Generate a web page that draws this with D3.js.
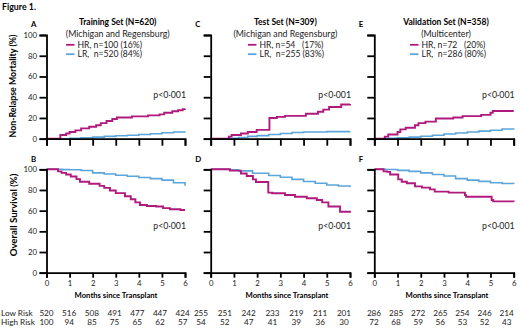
<!DOCTYPE html>
<html><head><meta charset="utf-8">
<script src="https://cdn.jsdelivr.net/npm/d3@7"></script>
<style>
body{margin:0;background:#fff;}
svg{font-family:Lato,"Open Sans",sans-serif;}
text{white-space:pre;}
</style></head>
<body><svg id="c" width="520" height="330"></svg>
<script>
// ---------- data ----------
const months = [0,1,2,3,4,5,6];
const nrmTicks = [0,20,40,60,80,100];
const panelLettersTop = ["A","C","E"];
const panelLettersBottom = ["B","D","F"];
const titles = ["Training Set (N=620)","Test Set (N=309)","Validation Set (N=358)"];
const subtitles = ["(Michigan and Regensburg)","(Michigan and Regensburg)","(Multicenter)"];
const legendHR = ["HR, n=100 (16%)","HR, n=54   (17%)","HR, n=72   (20%)"];
const legendLR = ["LR,  n=520 (84%)","LR,  n=255 (83%)","LR,  n=286 (80%)"];
const pText = "p<0\u00b7001";
const lowRisk = [[520,516,508,491,477,447,424],[255,251,242,233,219,211,201],[286,285,272,265,254,246,214]];
const highRisk = [[100,94,85,75,65,62,57],[54,52,47,41,39,36,30],[72,68,59,56,53,52,43]];

// Non-relapse mortality (%) step curves [month, value]
const nrmHR_A = [[0,0],[0.6,3.5],[0.85,5],[1.0,6.5],[1.25,8],[1.5,10],[1.85,11.5],[2.15,13],[2.35,15],[2.6,17],[2.85,19],[3.05,20.5],[3.7,21.5],[4.4,22.5],[4.9,23.5],[5.1,25],[5.45,26.5],[5.7,27.5],[5.9,28.5],[6,29]];
const nrmLR_A = [[0,0],[1.0,0.3],[1.5,0.8],[2,1.5],[2.5,2.2],[3,2.8],[3.5,3.3],[4,4],[4.5,4.8],[5,5.8],[5.5,6.5],[6,7]];
const nrmHR_C = [[0,0],[0.78,2],[0.9,3.5],[1.3,5],[1.6,6.5],[1.98,8.5],[2.53,20],[2.85,21],[3.2,22],[4.1,24],[4.62,26],[4.85,28],[5.1,30.5],[5.62,33],[6,33.5]];
const nrmLR_C = [[0,0],[0.8,0.3],[1.2,1.2],[1.6,2.2],[2,3],[2.5,4],[3,5],[3.5,6],[4,6.5],[5,6.8],[6,7]];
const nrmHR_E = [[0,0],[0.45,2],[0.6,4],[1.0,6.5],[1.12,9],[1.35,10.5],[1.75,13],[1.9,15],[2.2,16.5],[2.65,19.5],[3.4,20.5],[3.8,21.8],[4.6,23],[5.0,25],[5.1,26.7],[6,26.7]];
const nrmLR_E = [[0,0],[0.5,0.3],[1,0.8],[1.5,1.5],[2,2.4],[2.5,3.3],[3,4.5],[3.5,5.5],[4,6.5],[4.5,7.3],[5,8.2],[5.5,9.3],[6,10]];
// Overall survival (%)
const osHR_B = [[0,100],[0.5,98],[0.65,96.5],[0.85,95],[1.05,93],[1.3,90.5],[1.45,88],[1.85,86],[2.3,84],[2.5,82],[2.75,79.5],[3.0,77],[3.4,74],[3.65,71],[3.85,68],[4.05,65.5],[4.35,64.5],[4.75,64],[5.05,62.5],[5.35,61.3],[5.8,60.6],[6,60.6]];
const osLR_B = [[0,100],[0.7,99.7],[1,99.5],[1.5,98.8],[2,96.5],[2.5,95.5],[3,94.3],[3.5,93.3],[4,92],[4.5,91],[5,89.5],[5.5,87],[6,84]];
const osHR_D = [[0,100],[0.83,98.7],[1.3,96],[1.55,93.5],[1.82,90.3],[1.95,87.7],[2.48,77.4],[2.65,76.8],[3.2,75.2],[3.63,73.5],[4.14,72],[4.57,70.3],[4.8,68],[5.07,64],[5.57,59],[6,58]];
const osLR_D = [[0,100],[0.8,99.5],[1.2,98.5],[1.8,96.2],[2.5,94],[3,92.3],[3.5,90.3],[4,88.2],[4.5,86.5],[5,84.8],[5.5,83.8],[6,82.6]];
const osHR_F = [[0,100],[0.4,98],[0.55,97.5],[0.68,95],[1.03,90.3],[1.18,88],[1.4,86.5],[1.75,83.5],[2.05,82.3],[2.4,80.6],[2.6,78.4],[3.2,77.4],[3.9,75],[3.95,73.5],[5.05,70.3],[5.12,69],[6,68.7]];
const osLR_F = [[0,100],[0.5,99.8],[1,99],[1.5,98],[2,96.5],[2.5,95],[3,93.5],[3.5,91],[4,89.5],[4.5,88.3],[5,87],[5.5,86.3],[6,85.8]];

const nrmHR = [nrmHR_A, nrmHR_C, nrmHR_E];
const nrmLR = [nrmLR_A, nrmLR_C, nrmLR_E];
const osHR = [osHR_B, osHR_D, osHR_F];
const osLR = [osLR_B, osLR_D, osLR_F];

// ---------- layout ----------
const HR_COLOR = "#B01A7C", LR_COLOR = "#5CA5DA";
const colX = [[46.5,185],[210.7,350],[374.3,513.7]];
const tableX = [[46.5,182.7],[201,344],[374,506.7]];
const titleDx = [2,5,2];
const legendLineX = [66,248,410];
const monthsLabelX = [116,287,447];
const topY = [138.7,35], botY = [272.7,169.3];

const svg = d3.select("#c");
svg.append("text").attr("x",2).attr("y",10).attr("font-size",8.8).attr("font-weight","bold").text("Figure 1.");

function drawPanel(ci, yr, hr, lr, isTop){
  const x = d3.scaleLinear().domain([0,6]).range(colX[ci]);
  const y = d3.scaleLinear().domain([0,100]).range(yr);
  const g = svg.append("g");
  const line = d3.line().x(d=>x(d[0])).y(d=>y(d[1])).curve(d3.curveStepAfter);
  g.append("path").datum(lr).attr("d",line).attr("fill","none").attr("stroke",LR_COLOR).attr("stroke-width",1.6);
  g.append("path").datum(hr).attr("d",line).attr("fill","none").attr("stroke",HR_COLOR).attr("stroke-width",1.9);
  // y axis
  const ya = d3.axisLeft(y).tickValues(nrmTicks).tickSize(7).tickPadding(2.5)
     .tickFormat(ci===0 ? d3.format("d") : "");
  const yg = g.append("g").attr("transform",`translate(${colX[ci][0]},0)`).call(ya);
  // x axis
  const xa = d3.axisBottom(x).tickValues(months).tickSize(isTop?7:5).tickPadding(3)
     .tickFormat(isTop ? "" : d3.format("d"));
  const xg = g.append("g").attr("transform",`translate(0,${yr[0]})`).call(xa);
  [yg,xg].forEach(a=>{
    a.select(".domain").attr("stroke","#000").attr("stroke-width",1.8);
    a.selectAll(".tick line").attr("stroke","#000").attr("stroke-width",1.8);
    a.selectAll(".tick text").attr("font-size",7.8).attr("font-family","Lato").attr("fill","#222");
  });
  // panel letter
  g.append("text").attr("x",colX[ci][0]-15.5).attr("y",yr[1]-(isTop?8:7))
    .attr("font-size",7.8).attr("font-weight","bold")
    .text(isTop?panelLettersTop[ci]:panelLettersBottom[ci]);
  // p value
  g.append("text").attr("x",x(6)+1).attr("y",isTop? 97.5 : 229).attr("text-anchor","end")
    .attr("font-size",8.8).attr("fill","#222").text(pText);
  return x;
}

for(let ci=0;ci<3;ci++){
  drawPanel(ci, topY, nrmHR[ci], nrmLR[ci], true);
  drawPanel(ci, botY, osHR[ci], osLR[ci], false);
  const cx = (colX[ci][0]+colX[ci][1])/2 + titleDx[ci];
  svg.append("text").attr("x",cx).attr("y",24.5).attr("text-anchor","middle")
    .attr("font-size",8.5).attr("font-weight","bold").text(titles[ci]);
  svg.append("text").attr("x",cx).attr("y",36.5).attr("text-anchor","middle")
    .attr("font-size",8.8).attr("fill","#222").text(subtitles[ci]);
  const lx = legendLineX[ci];
  [[legendHR[ci],HR_COLOR,44.8],[legendLR[ci],LR_COLOR,54.2]].forEach(([t,c,yy])=>{
    svg.append("line").attr("x1",lx).attr("x2",lx+8.5).attr("y1",yy).attr("y2",yy)
      .attr("stroke",c).attr("stroke-width",1.8);
    svg.append("text").attr("x",lx+11.5).attr("y",yy+3).attr("font-size",8.6)
      .attr("textLength", null).attr("fill","#222").text(t);
  });
  svg.append("text").attr("x",monthsLabelX[ci]).attr("y",298).attr("text-anchor","middle")
    .attr("font-size",7.7).attr("font-weight","bold").text("Months since Transplant");
  const tx = d3.scaleLinear().domain([0,6]).range(tableX[ci]);
  svg.append("g").selectAll("text").data(lowRisk[ci]).join("text")
    .attr("x",(d,i)=>tx(months[i])).attr("y",316.3).attr("text-anchor","middle")
    .attr("font-size",8.2).attr("fill","#222").text(d=>d);
  svg.append("g").selectAll("text").data(highRisk[ci]).join("text")
    .attr("x",(d,i)=>tx(months[i])).attr("y",324.8).attr("text-anchor","middle")
    .attr("font-size",8.2).attr("fill","#222").text(d=>d);
}
svg.append("text").attr("x",1).attr("y",316.3).attr("font-size",8.2).attr("fill","#222").text("Low Risk");
svg.append("text").attr("x",1).attr("y",324.8).attr("font-size",8.2).attr("fill","#222").text("High Risk");
// y-axis titles
svg.append("text").attr("transform","translate(16,86) rotate(-90)").attr("text-anchor","middle")
  .attr("font-size",8.8).attr("font-weight","bold").text("Non-Relapse Mortality (%)");
svg.append("text").attr("transform","translate(16.5,215) rotate(-90)").attr("text-anchor","middle")
  .attr("font-size",9.6).attr("font-weight","bold").text("Overall Survival (%)");
</script></body></html>
